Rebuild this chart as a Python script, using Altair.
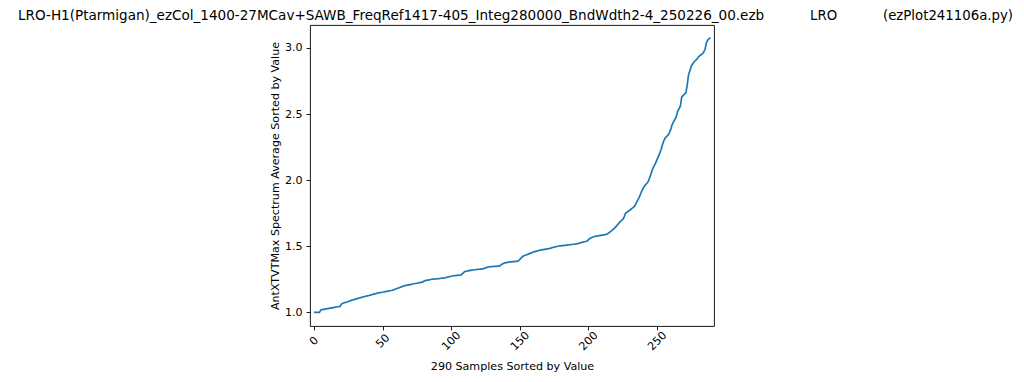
import altair as alt
import pandas as pd

values = [
    1.000, 1.000, 1.000, 1.000, 1.000, 1.018, 1.020, 1.022, 1.024, 1.026,
    1.028, 1.030, 1.032, 1.034, 1.036, 1.038, 1.040, 1.042, 1.043, 1.045,
    1.062, 1.068, 1.072, 1.075, 1.078, 1.082, 1.086, 1.090, 1.093, 1.096,
    1.099, 1.102, 1.105, 1.108, 1.111, 1.114, 1.117, 1.120, 1.122, 1.125,
    1.127, 1.130, 1.133, 1.136, 1.139, 1.141, 1.144, 1.147, 1.149, 1.150,
    1.152, 1.154, 1.156, 1.158, 1.160, 1.162, 1.165, 1.167, 1.170, 1.174,
    1.178, 1.182, 1.186, 1.190, 1.194, 1.198, 1.201, 1.204, 1.206, 1.208,
    1.210, 1.212, 1.214, 1.216, 1.218, 1.220, 1.222, 1.224, 1.226, 1.228,
    1.235, 1.240, 1.242, 1.244, 1.246, 1.248, 1.250, 1.251, 1.252, 1.253,
    1.254, 1.255, 1.256, 1.258, 1.259, 1.260, 1.262, 1.265, 1.268, 1.271,
    1.273, 1.275, 1.277, 1.278, 1.279, 1.280, 1.281, 1.282, 1.290, 1.300,
    1.308, 1.311, 1.313, 1.315, 1.317, 1.319, 1.320, 1.322, 1.323, 1.325,
    1.326, 1.327, 1.328, 1.329, 1.332, 1.336, 1.340, 1.343, 1.344, 1.345,
    1.346, 1.347, 1.348, 1.348, 1.349, 1.350, 1.356, 1.364, 1.370, 1.374,
    1.376, 1.378, 1.380, 1.381, 1.382, 1.383, 1.384, 1.385, 1.386, 1.390,
    1.400, 1.412, 1.422, 1.428, 1.432, 1.436, 1.440, 1.444, 1.448, 1.452,
    1.456, 1.459, 1.462, 1.465, 1.468, 1.470, 1.472, 1.474, 1.476, 1.478,
    1.480, 1.482, 1.484, 1.487, 1.490, 1.493, 1.496, 1.498, 1.500, 1.502,
    1.503, 1.505, 1.506, 1.507, 1.508, 1.510, 1.511, 1.512, 1.513, 1.515,
    1.516, 1.518, 1.520, 1.522, 1.525, 1.528, 1.531, 1.534, 1.536, 1.538,
    1.550, 1.558, 1.564, 1.568, 1.572, 1.575, 1.577, 1.578, 1.580, 1.582,
    1.584, 1.586, 1.588, 1.590, 1.595, 1.602, 1.610, 1.618, 1.627, 1.637,
    1.648, 1.660, 1.672, 1.684, 1.694, 1.702, 1.720, 1.750, 1.757, 1.764,
    1.772, 1.780, 1.788, 1.796, 1.810, 1.830, 1.850, 1.870, 1.895, 1.920,
    1.942, 1.958, 1.970, 1.980, 2.000, 2.030, 2.060, 2.090, 2.110, 2.130,
    2.155, 2.180, 2.205, 2.233, 2.270, 2.300, 2.320, 2.330, 2.340, 2.360,
    2.384, 2.420, 2.440, 2.460, 2.480, 2.520, 2.540, 2.560, 2.630, 2.640,
    2.650, 2.660, 2.720, 2.800, 2.830, 2.864, 2.880, 2.895, 2.905, 2.915,
    2.930, 2.940, 2.948, 2.955, 2.968, 2.990, 3.040, 3.060, 3.070, 3.078,
]
sample_index = list(range(len(values)))
x_ticks = [0, 50, 100, 150, 200, 250]
y_ticks = [1.0, 1.5, 2.0, 2.5, 3.0]

title_parts = [
    "LRO-H1(Ptarmigan)_ezCol_1400-27MCav+SAWB_FreqRef1417-405_Integ280000_BndWdth2-4_250226_00.ezb",
    "LRO",
    "(ezPlot241106a.py)",
]

df = pd.DataFrame({"idx": sample_index, "val": values})

FONT = "DejaVu Sans"

line = (
    alt.Chart(df)
    .mark_line(color="#1f77b4", strokeWidth=1.7, clip=True)
    .encode(
        x=alt.X(
            "idx:Q",
            scale=alt.Scale(domain=[-2.9, 291.5], nice=False, zero=False),
            axis=alt.Axis(
                title="290 Samples Sorted by Value",
                values=x_ticks,
                labelAngle=315,
                labelAlign="center",
                labelBaseline="middle",
                labelPadding=11,
                titlePadding=9,
            ),
        ),
        y=alt.Y(
            "val:Q",
            scale=alt.Scale(domain=[0.8965, 3.1735], nice=False, zero=False),
            axis=alt.Axis(
                title="AntXTVTMax Spectrum Average Sorted by Value",
                values=y_ticks,
                format=".1f",
                labelPadding=4,
                titlePadding=4,
            ),
        ),
    )
)


def title_piece(text, xpos, size):
    return (
        alt.Chart(pd.DataFrame({"t": [text]}))
        .mark_text(
            font=FONT,
            fontSize=size,
            color="black",
            align="left",
            baseline="alphabetic",
        )
        .encode(text="t:N", x=alt.value(xpos), y=alt.value(-5))
    )


chart = (
    alt.layer(
        line,
        title_piece(title_parts[0], -292, 13.55),
        title_piece(title_parts[1], 500, 13.3),
        title_piece(title_parts[2], 573, 13.3),
    )
    .properties(
        width=404,
        height=301,
        autosize=alt.AutoSizeParams(type="none"),
        padding={"left": 302, "top": 17, "right": 302, "bottom": 52},
    )
    .configure_view(stroke="black", strokeWidth=0.9)
    .configure_axis(
        grid=False,
        domain=False,
        tickColor="black",
        tickSize=3.9,
        tickWidth=0.9,
        labelFont=FONT,
        labelFontSize=11.1,
        labelColor="black",
        titleFont=FONT,
        titleFontSize=11.1,
        titleFontWeight="normal",
        titleColor="black",
    )
)

chart.save("out.html", embed_options={"renderer": "svg", "actions": False})
